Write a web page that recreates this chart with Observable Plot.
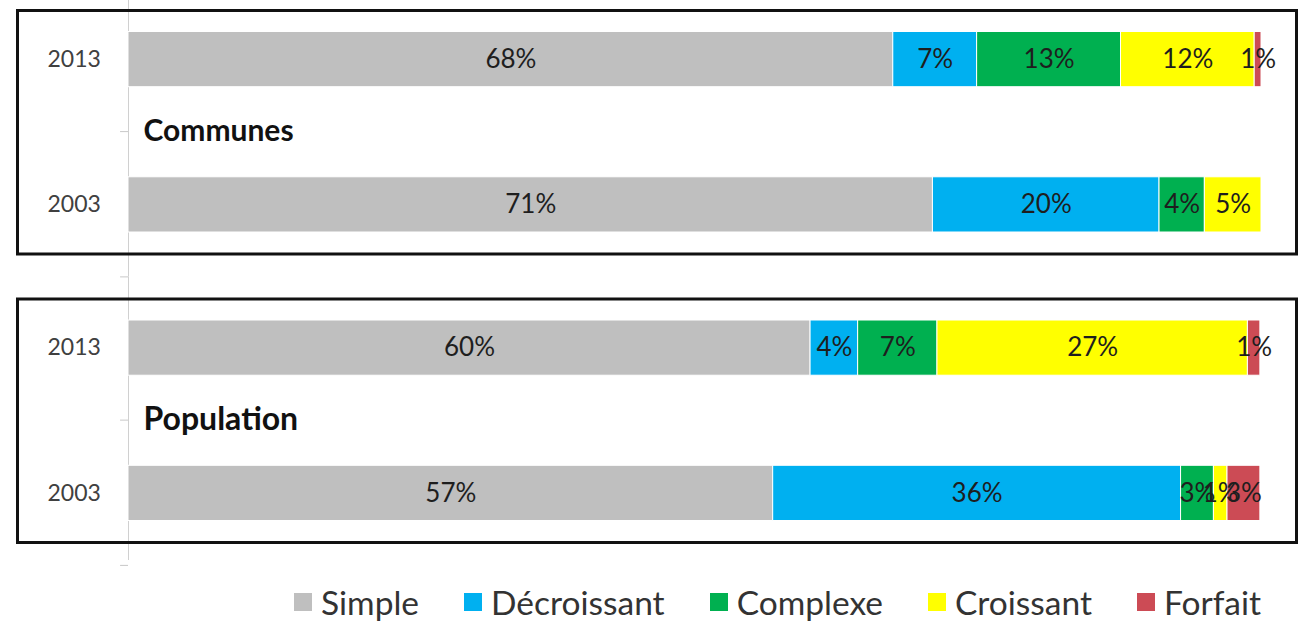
<!DOCTYPE html>
<html>
<head>
<meta charset="utf-8">
<script src="https://cdn.jsdelivr.net/npm/d3@7"></script>
<script src="https://cdn.jsdelivr.net/npm/@observablehq/plot@0.6"></script>
<style>
  html, body { margin: 0; padding: 0; background: #fff; }
  #chart svg { display: block; }
  #legend { display: flex; justify-content: flex-end; align-items: center; height: 55px; padding-right: 48px; padding-top: 8px; box-sizing: border-box; font-family: Lato, "Open Sans", sans-serif; font-size: 33.5px; color: #333; }
  #legend .item { display: flex; align-items: center; margin-left: 45px; }
  #legend .sw { width: 18px; height: 18px; margin-right: 9px; }
</style>
</head>
<body>
<div id="chart"></div>
<div id="legend"></div>
<script>
// Data
const groups = ["Communes", "Population"];
const years = ["2013", "2003"];
const types = ["Simple", "Décroissant", "Complexe", "Croissant", "Forfait"];
const colors = ["#bfbfbf", "#00b0f0", "#00b050", "#ffff00", "#cc4b55"];
const communes2013 = [67.5, 7.4, 12.7, 11.8, 0.6];
const communes2003 = [71.0, 20.0, 4.0, 5.0, 0];
const population2013 = [60.2, 4.2, 7.0, 27.4, 1.1];
const population2003 = [56.9, 36.0, 2.9, 1.2, 2.9];

const series = [
  {group: "Communes", year: "2013", values: communes2013},
  {group: "Communes", year: "2003", values: communes2003},
  {group: "Population", year: "2013", values: population2013},
  {group: "Population", year: "2003", values: population2003}
];
const rows = [];
for (const s of series) {
  s.values.forEach((v, i) => {
    if (v > 0) rows.push({group: s.group, year: s.year, type: types[i], value: v});
  });
}
const yearRows = series.map(s => ({group: s.group, year: s.year}));
const groupRows = groups.map(g => ({group: g}));

const font = "Lato, 'Open Sans', sans-serif";

const chart = Plot.plot({
  width: 1309,
  height: 570,
  marginTop: 10,
  marginBottom: 28,
  marginLeft: 17,
  marginRight: 13,
  style: {fontFamily: font, background: "#fff"},
  x: {domain: [0, 100], range: [128, 1261], axis: null},
  y: {domain: years, paddingInner: 0.62, paddingOuter: 0.148, round: false, axis: null},
  fy: {domain: groups, paddingInner: 0.156, paddingOuter: 0, round: false, axis: null},
  color: {domain: types, range: colors},
  marks: [
    Plot.ruleX(groupRows.filter(d => d.group === "Communes"), {x: () => 0, fy: "group", stroke: "#d0d0d0", strokeWidth: 1, insetTop: -10, insetBottom: -23}),
    Plot.ruleX(groupRows.filter(d => d.group === "Population"), {x: () => 0, fy: "group", stroke: "#d0d0d0", strokeWidth: 1, insetTop: -22, insetBottom: -18}),
    Plot.ruleY(yearRows, {y: "year", fy: "group", x1: () => -0.7, x2: () => 0, dy: 72, stroke: "#c8c8c8"}),
    Plot.barX(rows, Plot.stackX({x: "value", y: "year", fy: "group", fill: "type", stroke: "#fff", strokeWidth: 1})),
    Plot.text(rows, Plot.stackX({x: "value", y: "year", fy: "group", text: d => Math.round(d.value) + "%", fontSize: 26, fill: "#1e1e1e"})),
    Plot.text(yearRows, {y: "year", fy: "group", frameAnchor: "left", dx: 30, textAnchor: "start", text: "year", fontSize: 23, fill: "#404040"}),
    Plot.text(groupRows, {fy: "group", y: () => "2013", x: () => 0, dx: 15, dy: 72, textAnchor: "start", text: "group", fontWeight: "bold", fontSize: d => d.group === "Communes" ? 30 : 32, fill: "#111"}),
    Plot.frame({stroke: "#111", strokeWidth: 3})
  ]
});
document.getElementById("chart").append(chart);

const legend = document.getElementById("legend");
types.forEach((t, i) => {
  const item = document.createElement("div");
  item.className = "item";
  const sw = document.createElement("span");
  sw.className = "sw";
  sw.style.background = colors[i];
  const lab = document.createElement("span");
  lab.textContent = t;
  item.append(sw, lab);
  legend.append(item);
});
</script>
</body>
</html>
